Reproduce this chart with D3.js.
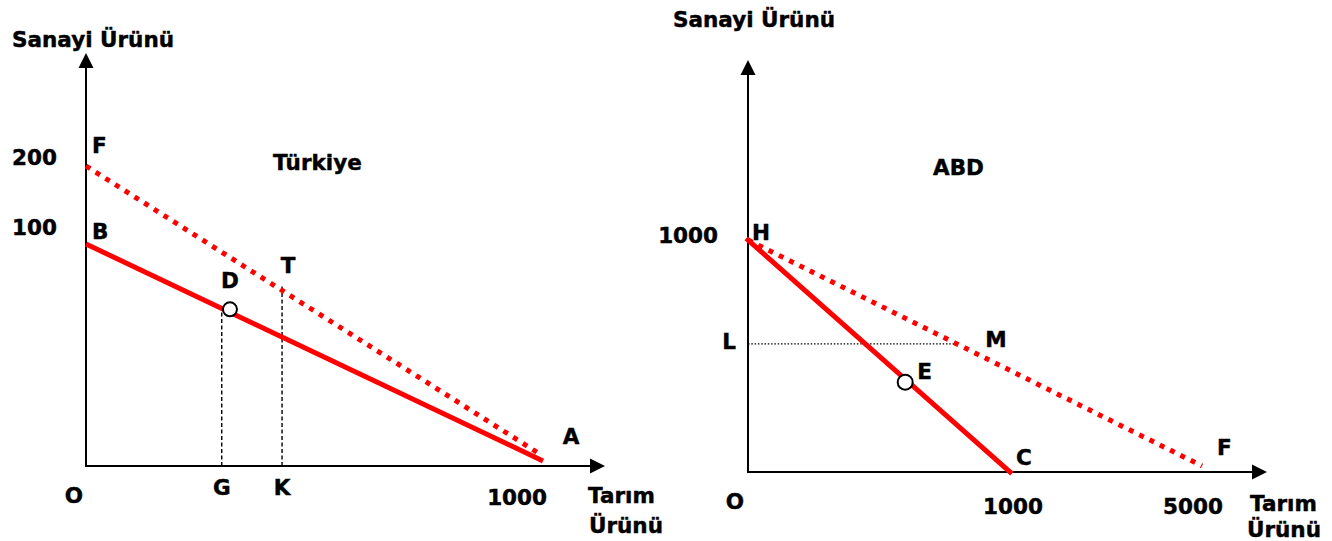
<!DOCTYPE html>
<html>
<head>
<meta charset="utf-8">
<script src="https://cdn.jsdelivr.net/npm/d3@7/dist/d3.min.js"></script>
<style>
  html, body { margin: 0; padding: 0; background: #fff; }
  svg text { font-family: "DejaVu Sans", Verdana, sans-serif; font-weight: bold; font-size: 21.5px; fill: #000; stroke: #000; stroke-width: 0.45px; }
</style>
</head>
<body>
<div id="chart"></div>
<script>
// ---- Türkiye panel data ----
const trYTicks = [200, 100];
const trXTicks = [1000];
const trLineBA = [[0, 100], [1000, 2.3]];   // B - A, solid
const trLineFA = [[0, 200], [989, 5.9]];    // F - A, dotted
const trG = 297;                            // G on x axis
const trK = 429;                            // K on x axis
const trD = 315;                            // D on B-A

// ---- ABD panel data ----
const usYTicks = [1000];
const usXTicks = [1000, 5000];
const usLineHC = [[0, 1000], [1000, 0]];    // H - C, solid
const usLineHF = [[0, 1000], [5000, 26]];   // H - F, dotted
const usE = [600, 400];
const usL = 552;

const RED = '#ff0000';
const W = 1332, H = 541;

const svg = d3.select('#chart').append('svg')
    .attr('width', W)
    .attr('height', H);

function label(g, txt, x, y, anchor) {
    g.append('text')
        .attr('x', x)
        .attr('y', y)
        .attr('text-anchor', anchor || 'start')
        .text(txt);
}

function axes(g, x0, y0, xTip, yTip) {
    g.append('line')
        .attr('x1', x0).attr('y1', y0).attr('x2', x0).attr('y2', yTip + 12)
        .attr('stroke', '#000').attr('stroke-width', 2);
    g.append('line')
        .attr('x1', x0 - 1).attr('y1', y0).attr('x2', xTip - 12).attr('y2', y0)
        .attr('stroke', '#000').attr('stroke-width', 2);
    // arrow heads
    g.append('path')
        .attr('d', `M${x0},${yTip} L${x0 - 7.5},${yTip + 15} L${x0 + 7.5},${yTip + 15} Z`)
        .attr('fill', '#000');
    g.append('path')
        .attr('d', `M${xTip},${y0} L${xTip - 15},${y0 - 7.5} L${xTip - 15},${y0 + 7.5} Z`)
        .attr('fill', '#000');
}

function redLine(g, data, x, y, dotted) {
    const line = d3.line().x(d => x(d[0])).y(d => y(d[1]));
    const p = g.append('path')
        .datum(data)
        .attr('d', line)
        .attr('fill', 'none')
        .attr('stroke', RED)
        .attr('stroke-width', 5);
    if (dotted) p.attr('stroke-dasharray', '5,6.5');
    return p;
}

// pixel position along a drawn segment
function alongX(data, x, y, px) {
    const a = [x(data[0][0]), y(data[0][1])], b = [x(data[1][0]), y(data[1][1])];
    const t = (px - a[0]) / (b[0] - a[0]);
    return d3.interpolate(a, b)(t);
}
function alongY(data, x, y, py) {
    const a = [x(data[0][0]), y(data[0][1])], b = [x(data[1][0]), y(data[1][1])];
    const t = (py - a[1]) / (b[1] - a[1]);
    return d3.interpolate(a, b)(t);
}

// ================= Türkiye =================
(function () {
    const g = svg.append('g');
    const x = d3.scaleLinear().domain([0, 1000]).range([86, 543]);
    const y = d3.scaleLinear().domain([0, 100, 200]).range([466, 244, 166]);

    axes(g, x(0), y(0), 605, 53);

    // guides
    const dPt = alongX(trLineBA, x, y, x(trD));
    const tPt = alongX(trLineFA, x, y, x(trK));
    g.append('line')
        .attr('x1', x(trG)).attr('x2', x(trG))
        .attr('y1', y(0)).attr('y2', dPt[1])
        .attr('stroke', '#000').attr('stroke-width', 1.4)
        .attr('stroke-dasharray', '4,2.5');
    g.append('line')
        .attr('x1', x(trK)).attr('x2', x(trK))
        .attr('y1', y(0)).attr('y2', tPt[1] - 6)
        .attr('stroke', '#000').attr('stroke-width', 1.4)
        .attr('stroke-dasharray', '4,2.5');

    redLine(g, trLineFA, x, y, true);
    redLine(g, trLineBA, x, y, false);

    g.append('circle')
        .attr('cx', dPt[0]).attr('cy', dPt[1] - 3).attr('r', 7)
        .attr('fill', '#fff').attr('stroke', '#000').attr('stroke-width', 2);

    // texts
    label(g, 'Sanayi Ürünü', 12, 47);
    const yOff = { 200: -1, 100: -9 };
    trYTicks.forEach(v => label(g, String(v), 12, y(v) + yOff[v]));
    trXTicks.forEach(v => label(g, String(v), x(v) + 4, y(0) + 39, 'end'));
    label(g, 'F', 92, 153);
    label(g, 'B', 92, 239);
    label(g, 'Türkiye', 273, 170);
    label(g, 'D', dPt[0], 288, 'middle');
    label(g, 'T', tPt[0] + 6, 273, 'middle');
    label(g, 'A', 571, 444, 'middle');
    label(g, 'O', 74, 503, 'middle');
    label(g, 'G', x(trG), 495, 'middle');
    label(g, 'K', x(trK), 495, 'middle');
    label(g, 'Tarım', 588, 503);
    label(g, 'Ürünü', 589, 533);
})();

// ================= ABD =================
(function () {
    const g = svg.append('g');
    const x = d3.scaleLinear().domain([0, 1000, 5000]).range([748, 1010, 1202]);
    const y = d3.scaleLinear().domain([0, 1000]).range([472, 240]);

    axes(g, x(0), y(0), 1267, 60);

    const mPt = alongY(usLineHF, x, y, y(usL));
    g.append('line')
        .attr('x1', x(0)).attr('x2', mPt[0])
        .attr('y1', y(usL)).attr('y2', y(usL))
        .attr('stroke', '#000').attr('stroke-width', 1.3)
        .attr('stroke-dasharray', '1.5,1.8');

    redLine(g, usLineHF, x, y, true);
    redLine(g, usLineHC, x, y, false).attr('stroke-linecap', 'square');

    g.append('circle')
        .attr('cx', x(usE[0])).attr('cy', y(usE[1]) + 3).attr('r', 7.5)
        .attr('fill', '#fff').attr('stroke', '#000').attr('stroke-width', 2);

    label(g, 'Sanayi Ürünü', 673, 27);
    label(g, 'ABD', 933, 175);
    usYTicks.forEach(v => label(g, String(v), 718, y(v) + 3, 'end'));
    usXTicks.forEach(v => label(g, String(v), x(v) + (v === 5000 ? -9 : 3), y(0) + 42, 'middle'));
    label(g, 'H', 752, 240);
    label(g, 'L', 729, 349, 'middle');
    label(g, 'M', 996, 347, 'middle');
    label(g, 'E', x(usE[0]) + 12, 379);
    label(g, 'C', 1016, 465);
    label(g, 'F', 1217, 455);
    label(g, 'O', 735, 509, 'middle');
    label(g, 'Tarım', 1250, 511);
    label(g, 'Ürünü', 1247, 537);
})();
</script>
</body>
</html>
